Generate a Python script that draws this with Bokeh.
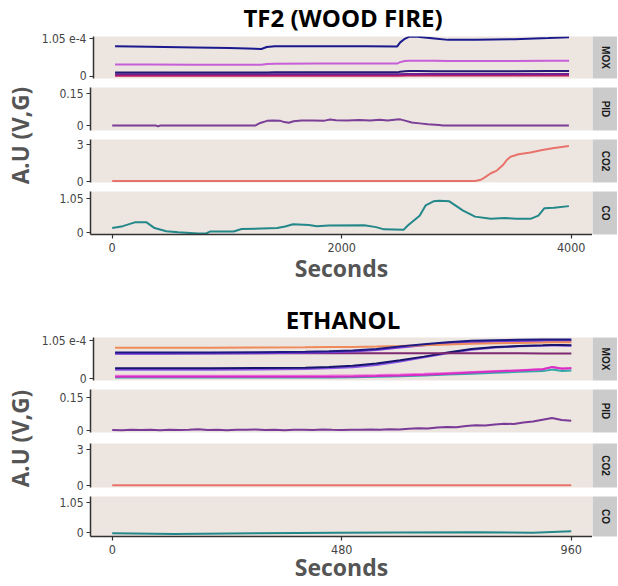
import numpy as np
from bokeh.plotting import figure
from bokeh.layouts import column, row
from bokeh.models import Range1d, FixedTicker, Label, Title
from bokeh.embed import file_html
from bokeh.resources import INLINE

# ======================= DATA =======================
y_axis_label = "A.U (V,G)"
x_axis_label = "Seconds"
panel_names = ["MOX", "PID", "CO2", "CO"]

# ---------- TF2 (WOOD FIRE) ----------
tf2_title = "TF2 (WOOD FIRE)"
tf2_x_ticks = [0, 2000, 4000]
tf2_x_tick_labels = ["0", "2000", "4000"]

tf2_mox_t = [0, 300, 700, 1000, 1283, 1330, 1400, 1800, 2200, 2472, 2500, 2540,
             2580, 2650, 2800, 2920, 3162, 3500, 3800, 3980]
tf2_mox_s1 = [8.4e-5, 8.3e-5, 8.1e-5, 7.95e-5, 7.65e-5, 8.2e-5, 8.4e-5, 8.4e-5, 8.4e-5,
              8.35e-5, 9.5e-5, 1.05e-4, 1.11e-4, 1.11e-4, 1.06e-4, 1.02e-4, 1.02e-4,
              1.04e-4, 1.07e-4, 1.09e-4]
tf2_mox_s2 = [3.35e-5, 3.35e-5, 3.3e-5, 3.3e-5, 3.3e-5, 3.45e-5, 3.55e-5, 3.6e-5, 3.6e-5,
              3.6e-5, 4.0e-5, 4.3e-5, 4.4e-5, 4.4e-5, 4.35e-5, 4.3e-5, 4.3e-5, 4.3e-5,
              4.35e-5, 4.4e-5]
tf2_mox_s3 = [1.1e-5, 1.1e-5, 1.1e-5, 1.1e-5, 1.1e-5, 1.12e-5, 1.15e-5, 1.15e-5, 1.15e-5,
              1.15e-5, 1.3e-5, 1.45e-5, 1.5e-5, 1.5e-5, 1.48e-5, 1.48e-5, 1.48e-5, 1.48e-5,
              1.5e-5, 1.5e-5]
tf2_mox_s45_t = [0, 2480, 2560, 3980]
tf2_mox_s4 = [6.0e-6, 6.2e-6, 7.0e-6, 7.2e-6]
tf2_mox_s5 = [2.0e-6, 2.0e-6, 2.6e-6, 2.8e-6]

tf2_pid_t = [0, 380, 400, 420, 1250, 1290, 1350, 1400, 1460, 1500, 1540, 1580, 1650,
             1750, 1850, 1900, 1950, 2050, 2150, 2250, 2330, 2400, 2480, 2510, 2560,
             2610, 2680, 2750, 2850, 2880, 3980]
tf2_pid = [0.0, 0.0, -0.004, 0.0, 0.0, 0.012, 0.022, 0.024, 0.023, 0.016, 0.013, 0.02,
           0.024, 0.024, 0.023, 0.028, 0.025, 0.024, 0.026, 0.024, 0.027, 0.024, 0.028,
           0.029, 0.022, 0.014, 0.01, 0.006, 0.002, 0.0, 0.0]

tf2_co2_t = [0, 3162, 3214, 3260, 3300, 3352, 3403, 3440, 3472, 3541, 3645, 3748, 3851, 3980]
tf2_co2 = [0.02, 0.02, 0.12, 0.4, 0.65, 0.87, 1.3, 1.75, 2.0, 2.2, 2.35, 2.55, 2.72, 2.87]

tf2_co_t = [0, 93, 197, 300, 369, 472, 576, 748, 817, 852, 1059, 1127, 1438, 1507, 1576,
            1714, 1783, 1886, 2196, 2300, 2369, 2541, 2576, 2679, 2731, 2800, 2851, 2938,
            3058, 3162, 3300, 3420, 3524, 3645, 3714, 3765, 3851, 3980]
tf2_co = [0.13, 0.19, 0.31, 0.31, 0.13, 0.03, 0.0, -0.04, -0.04, 0.02, 0.02, 0.1, 0.13,
          0.18, 0.25, 0.23, 0.19, 0.21, 0.22, 0.16, 0.09, 0.08, 0.21, 0.52, 0.84, 0.97,
          0.99, 0.97, 0.68, 0.49, 0.42, 0.45, 0.42, 0.42, 0.52, 0.75, 0.77, 0.82]

# ---------- ETHANOL ----------
eth_title = "ETHANOL"
eth_x_ticks = [0, 480, 960]
eth_x_tick_labels = ["0", "480", "960"]

eth_mox_t = [0, 100, 200, 300, 400, 450, 500, 550, 600, 650, 700, 750, 800, 850, 900, 920, 940, 960]
eth_mox_orange = [8.5e-5, 8.5e-5, 8.55e-5, 8.6e-5, 8.65e-5, 8.7e-5, 8.75e-5, 8.85e-5, 9.0e-5,
                  9.2e-5, 9.4e-5, 9.6e-5, 9.75e-5, 9.85e-5, 9.95e-5, 1.0e-4, 1.0e-4, 1.0e-4]
eth_mox_navy1 = [7.2e-5, 7.2e-5, 7.25e-5, 7.3e-5, 7.45e-5, 7.6e-5, 7.8e-5, 8.2e-5, 8.9e-5,
                 9.5e-5, 1.0e-4, 1.04e-4, 1.06e-4, 1.07e-4, 1.08e-4, 1.08e-4, 1.08e-4, 1.08e-4]
eth_mox_violet1 = [6.9e-5, 6.9e-5, 6.95e-5, 7.0e-5, 7.15e-5, 7.3e-5, 7.5e-5, 7.9e-5, 8.6e-5,
                   9.2e-5, 9.7e-5, 1.0e-4, 1.02e-4, 1.03e-4, 1.04e-4, 1.05e-4, 1.04e-4, 1.04e-4]
eth_mox_maroon = [7.05e-5, 7.05e-5, 7.05e-5, 7.05e-5, 7.05e-5, 7.05e-5, 7.05e-5, 7.05e-5, 7.05e-5,
                  7.05e-5, 7.0e-5, 7.0e-5, 7.0e-5, 7.0e-5, 6.95e-5, 6.95e-5, 6.95e-5, 6.95e-5]
eth_mox_navy2 = [2.9e-5, 2.9e-5, 2.95e-5, 3.0e-5, 3.1e-5, 3.3e-5, 3.6e-5, 4.2e-5, 5.1e-5,
                 6.1e-5, 7.2e-5, 8.2e-5, 8.7e-5, 9.0e-5, 9.2e-5, 9.3e-5, 9.3e-5, 9.2e-5]
eth_mox_violet2 = [2.5e-5, 2.5e-5, 2.55e-5, 2.6e-5, 2.7e-5, 2.9e-5, 3.2e-5, 3.8e-5, 4.8e-5,
                   5.9e-5, 7.0e-5, 8.0e-5, 8.6e-5, 8.9e-5, 9.1e-5, 9.2e-5, 9.1e-5, 9.1e-5]
eth_mox_teal = [4.0e-6, 4.0e-6, 4.0e-6, 4.0e-6, 4.0e-6, 4.2e-6, 4.8e-6, 5.8e-6, 7.5e-6,
                9.5e-6, 1.2e-5, 1.45e-5, 1.7e-5, 1.95e-5, 2.15e-5, 2.6e-5, 2.2e-5, 2.3e-5]
eth_mox_magenta = [6.0e-6, 6.0e-6, 6.0e-6, 6.0e-6, 6.0e-6, 6.2e-6, 7.0e-6, 8.0e-6, 9.5e-6,
                   1.15e-5, 1.45e-5, 1.75e-5, 2.05e-5, 2.35e-5, 2.65e-5, 3.3e-5, 2.8e-5, 2.9e-5]
eth_mox_pink = [9.0e-6, 9.0e-6, 9.0e-6, 9.0e-6, 9.0e-6, 9.2e-6, 9.8e-6, 1.08e-5, 1.22e-5,
                1.4e-5, 1.65e-5, 1.9e-5, 2.15e-5, 2.4e-5, 2.7e-5, 3.2e-5, 2.9e-5, 3.0e-5]

eth_pid_t = [0, 20, 40, 60, 80, 100, 120, 140, 160, 180, 200, 220, 240, 260, 280, 300, 320,
             340, 360, 380, 400, 420, 440, 460, 480, 500, 520, 540, 560, 580, 600, 620, 640,
             660, 680, 700, 720, 740, 760, 780, 800, 820, 840, 860, 880, 900, 920, 940, 960]
eth_pid = [0.004, 0.003, 0.006, 0.004, 0.005, 0.003, 0.006, 0.004, 0.005, 0.008, 0.004, 0.005,
           0.003, 0.006, 0.005, 0.007, 0.004, 0.006, 0.003, 0.005, 0.006, 0.004, 0.007, 0.005,
           0.004, 0.006, 0.005, 0.007, 0.006, 0.008, 0.007, 0.010, 0.012, 0.011, 0.016, 0.018,
           0.017, 0.022, 0.025, 0.024, 0.029, 0.032, 0.031, 0.038, 0.042, 0.050, 0.058, 0.049,
           0.045]

eth_co2_t = [0, 960]
eth_co2 = [0.03, 0.03]

eth_co_t = [0, 130, 300, 470, 600, 760, 880, 960]
eth_co = [-0.02, -0.04, -0.02, 0.0, 0.01, 0.02, 0.0, 0.05]

# y ticks per panel (shared by both blocks)
y_ticks = {"MOX": [0, 1.05e-4], "PID": [0, 0.15], "CO2": [0, 3], "CO": [0, 1.05]}
y_tick_labels = {"MOX": ["0", "1.05 e-4"], "PID": ["0", "0.15"], "CO2": ["0", "3"], "CO": ["0", "1.05"]}

# ======================= STYLE / LAYOUT =======================
PANEL_BG = "#ede5df"
STRIP_BG = "#cbcbcb"
AXIS_COL = "#333333"
TICK_COL = "#444444"
LABEL_COL = "#555555"
HEAD_FONT = "Open Sans"
TICK_FONT = "DejaVu Sans Condensed"

LAB_W = 38
LEFT_B = 52
FRAME_W = 502
STRIP_W = 25

tf2_series = {
    "MOX": [(tf2_mox_s45_t, tf2_mox_s5, "#c21b60"), (tf2_mox_s45_t, tf2_mox_s4, "#6d2196"),
            (tf2_mox_t, tf2_mox_s3, "#231a73"), (tf2_mox_t, tf2_mox_s2, "#c65fd8"),
            (tf2_mox_t, tf2_mox_s1, "#1a1a8e")],
    "PID": [(tf2_pid_t, tf2_pid, "#7b3f98")],
    "CO2": [(tf2_co2_t, tf2_co2, "#e8736c")],
    "CO": [(tf2_co_t, tf2_co, "#23888a")],
}

eth_series = {
    "MOX": [(eth_mox_t, eth_mox_teal, "#33a8a6"), (eth_mox_t, eth_mox_pink, "#ef7ad8"),
            (eth_mox_t, eth_mox_magenta, "#d82ec6"), (eth_mox_t, eth_mox_violet2, "#8b55e6"),
            (eth_mox_t, eth_mox_navy2, "#17156b"), (eth_mox_t, eth_mox_maroon, "#7e2a72"),
            (eth_mox_t, eth_mox_violet1, "#7a3ddb"), (eth_mox_t, eth_mox_orange, "#ef8a5a"),
            (eth_mox_t, eth_mox_navy1, "#1c1a80")],
    "PID": [(eth_pid_t, eth_pid, "#7a3a98")],
    "CO2": [(eth_co2_t, eth_co2, "#e8736c")],
    "CO": [(eth_co_t, eth_co, "#23888a")],
}

# per block: x range, y ranges, panel (top border, frame height, bottom border), text offsets
tf2_geom = {
    "x_range": (-189.1, 4185.6),
    "y_range": {"MOX": (-5.6e-6, 1.114e-4), "PID": (-0.0237, 0.1798),
                "CO2": (-0.106, 3.409), "CO": (-0.072, 1.2795)},
    "borders": {"MOX": (36, 42, 6), "PID": (3, 43, 6), "CO2": (3, 43, 6), "CO": (3, 43, 64)},
    "title_standoff": 1,
    "title_valign": "top",
    "xlabel_standoff": -3,
}
eth_geom = {
    "x_range": (-45.4, 1004.5),
    "y_range": {"MOX": (-4.1e-6, 1.132e-4), "PID": (-0.0067, 0.1842),
                "CO2": (-0.167, 3.5), "CO": (-0.13, 1.268)},
    "borders": {"MOX": (39, 43, 6), "PID": (3, 43, 7), "CO2": (4, 44, 6), "CO": (3, 43, 46)},
    "title_standoff": 3,
    "title_valign": "bottom",
    "xlabel_standoff": -6,
}


def style_axis(ax):
    ax.axis_line_color = AXIS_COL
    ax.axis_line_width = 1.5
    ax.major_tick_line_color = AXIS_COL
    ax.major_tick_line_width = 1.2
    ax.major_tick_out = 4
    ax.major_tick_in = 0
    ax.minor_tick_line_color = None
    ax.major_label_text_font = TICK_FONT
    ax.major_label_text_color = TICK_COL


def make_panel(name, series, geom, title=None, xticks=None, xlabels=None):
    top, fh, bottom = geom["borders"][name]
    p = figure(width=LEFT_B + FRAME_W, height=top + fh + bottom,
               x_range=Range1d(*geom["x_range"]), y_range=Range1d(*geom["y_range"][name]),
               toolbar_location=None, output_backend="svg",
               x_axis_location="below" if xticks is not None else None,
               min_border_left=LEFT_B, min_border_right=0,
               min_border_top=top, min_border_bottom=bottom,
               background_fill_color=PANEL_BG, border_fill_color="white",
               outline_line_color=None)
    p.grid.visible = False
    for t, v, col in series:
        p.line(t, v, line_color=col, line_width=2)
    yax = p.yaxis[0]
    yax.ticker = FixedTicker(ticks=y_ticks[name])
    yax.major_label_overrides = dict(zip(y_ticks[name], y_tick_labels[name]))
    style_axis(yax)
    yax.major_label_text_font_size = "12px"
    yax.major_label_standoff = 3
    if xticks is not None:
        xax = p.xaxis[0]
        xax.ticker = FixedTicker(ticks=xticks)
        xax.major_label_overrides = dict(zip(xticks, xlabels))
        style_axis(xax)
        xax.major_label_text_font_size = "12.5px"
        xax.major_label_standoff = 4
        xax.axis_label = x_axis_label
        xax.axis_label_text_font = HEAD_FONT
        xax.axis_label_text_font_style = "bold"
        xax.axis_label_text_font_size = "23px"
        xax.axis_label_text_color = LABEL_COL
        xax.axis_label_standoff = geom["xlabel_standoff"]
    if title is not None:
        p.title = Title(text=title, align="center", text_font=HEAD_FONT,
                        text_font_style="bold", text_font_size="24px",
                        text_color="black", standoff=geom["title_standoff"],
                        vertical_align=geom["title_valign"])
    return p


def make_strip(name, geom):
    top, fh, bottom = geom["borders"][name]
    s = figure(width=STRIP_W, height=top + fh + bottom,
               x_range=Range1d(0, 1), y_range=Range1d(0, 1),
               toolbar_location=None, output_backend="svg",
               x_axis_type=None, y_axis_type=None,
               min_border_left=0, min_border_right=0,
               min_border_top=top, min_border_bottom=bottom,
               background_fill_color=STRIP_BG, border_fill_color="white",
               outline_line_color=None)
    s.grid.visible = False
    s.add_layout(Label(x=0.5, y=0.5, text=name, angle=-90, angle_units="deg",
                       text_align="center", text_baseline="middle",
                       text_font="Liberation Sans", text_font_style="bold",
                       text_font_size="10px", text_color="#1a1a1a"))
    return s


def make_block(series, geom, title, xticks, xlabels):
    rows = []
    for i, name in enumerate(panel_names):
        p = make_panel(name, series[name], geom,
                       title=title if i == 0 else None,
                       xticks=xticks if i == len(panel_names) - 1 else None,
                       xlabels=xlabels)
        rows.append(row(p, make_strip(name, geom), spacing=0))
    heights = [sum(geom["borders"][n]) for n in panel_names]
    top_b = geom["borders"]["MOX"][0]
    bot_b = geom["borders"]["CO"][2]
    lab = figure(width=LAB_W, height=sum(heights),
                 x_range=Range1d(0, 1), y_range=Range1d(0, 1),
                 toolbar_location=None, output_backend="svg",
                 x_axis_type=None, y_axis_type=None,
                 min_border_left=0, min_border_right=0,
                 min_border_top=top_b, min_border_bottom=bot_b,
                 outline_line_color=None)
    lab.grid.visible = False
    lab.add_layout(Label(x=0.53, y=0.5, text=y_axis_label, angle=90, angle_units="deg",
                         text_align="center", text_baseline="middle",
                         text_font=HEAD_FONT, text_font_style="bold",
                         text_font_size="22.5px", text_color=LABEL_COL))
    return row(lab, column(*rows, spacing=0), spacing=0)


layout = column(
    make_block(tf2_series, tf2_geom, tf2_title, tf2_x_ticks, tf2_x_tick_labels),
    make_block(eth_series, eth_geom, eth_title, eth_x_ticks, eth_x_tick_labels),
    spacing=0,
)

open("out.html", "w").write(file_html(layout, INLINE))
